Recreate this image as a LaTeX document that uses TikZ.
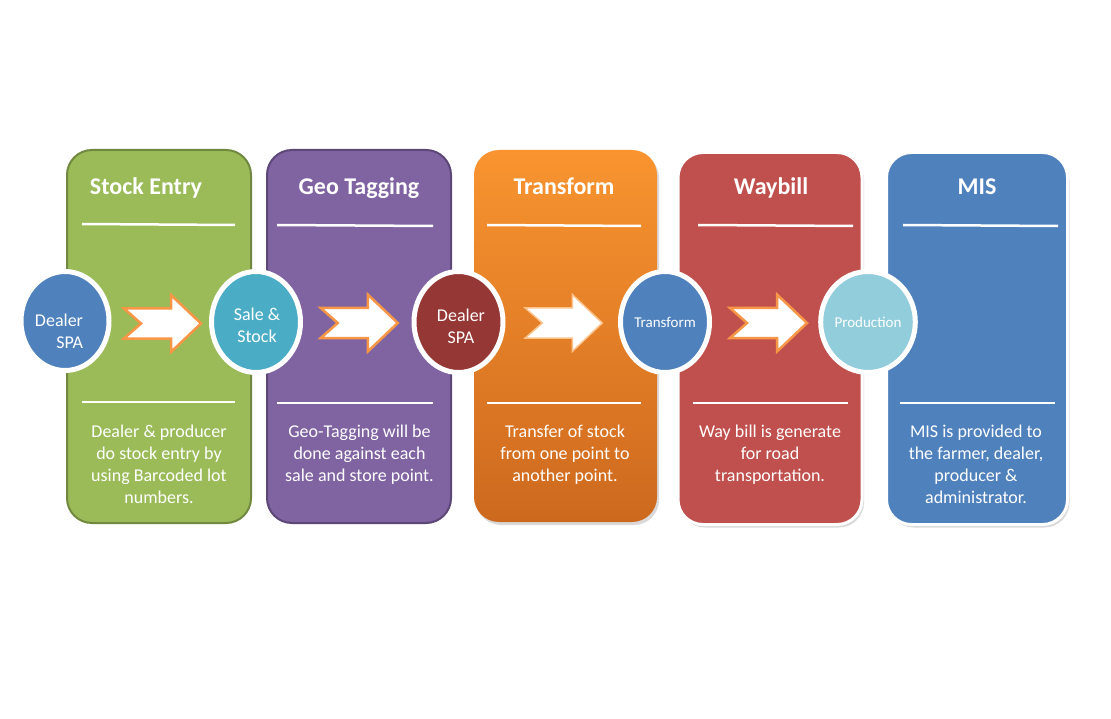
\documentclass[tikz,border=0pt]{standalone}
\usepackage{fontspec}
\setmainfont{Carlito}
\usetikzlibrary{shapes.geometric,shadows,calc}
\definecolor{pgreen}{RGB}{155,187,89}
\definecolor{pgreenb}{RGB}{113,137,63}
\definecolor{ppurple}{RGB}{128,100,162}
\definecolor{ppurpleb}{RGB}{92,71,118}
\definecolor{porangeT}{RGB}{249,148,48}
\definecolor{porangeB}{RGB}{205,105,30}
\definecolor{pred}{RGB}{192,80,77}
\definecolor{pblue}{RGB}{79,129,189}
\definecolor{caqua}{RGB}{75,172,198}
\definecolor{cmaroon}{RGB}{149,55,53}
\definecolor{clight}{RGB}{146,205,220}
\definecolor{aorange}{RGB}{247,150,70}
\definecolor{aglow}{RGB}{252,196,140}
\begin{document}
\begin{tikzpicture}[x=1pt,y=-1pt,
  panel/.style={rectangle, rounded corners=25pt, minimum width=184pt, minimum height=373pt, inner sep=0pt},
  shadowed/.style={drop shadow={shadow xshift=2pt, shadow yshift=-3pt, opacity=0.15, fill=black}},
  title/.style={text=white, font=\fontsize{24}{28}\selectfont\bfseries, anchor=base, inner sep=0pt},
  body/.style={text=white, font=\fontsize{18}{22}\selectfont, align=center, anchor=north, inner sep=0pt},
  rule/.style={draw=white, line width=2.5pt},
  disc/.style={ellipse, draw=white, line width=5pt, minimum width=89pt, minimum height=101pt, inner sep=0pt, text=white, font=\fontsize{18}{22}\selectfont, align=center},
  smalldisc/.style={disc, font=\fontsize{15}{18}\selectfont},
  disctext/.style={text=white, font=\fontsize{18}{22}\selectfont, inner sep=0pt},
  pics/blockarrow/.style={code={
    \draw[#1] (-38.5,-15) -- (8.5,-15) -- (8.5,-28.5) -- (38.5,0) -- (8.5,28.5) -- (8.5,15) -- (-38.5,15) -- (-21.5,0) -- cycle;}}
]
\useasboundingbox (0,0) rectangle (1111,719);
\fill[white] (0,0) rectangle (1111,719);

% panels
\node[panel, fill=pgreen, draw=pgreenb, line width=2pt] (p1) at (159,336.5) {};
\node[panel, fill=ppurple, draw=ppurpleb, line width=2pt] (p2) at (359,336.5) {};
\node[panel, shadowed, top color=porangeT, bottom color=porangeB, minimum width=183pt, minimum height=372pt] (p3) at (565.5,336) {};
\node[panel, shadowed, fill=pred, draw=white, line width=3pt, minimum width=184pt, minimum height=372pt] (p4) at (770,338.5) {};
\node[panel, shadowed, fill=pblue, draw=white, line width=3pt, minimum width=181pt, minimum height=372pt] (p5) at (977,338.5) {};

% rules
\draw[rule] (82,224) -- (235,225);
\draw[rule] (82,402) -- (235,402);
\draw[rule] (277,225) -- (433,226);
\draw[rule] (277,403) -- (433,403);
\draw[rule] (487,225) -- (641,226);
\draw[rule] (487,403) -- (641,403);
\draw[rule] (698,225) -- (853,226);
\draw[rule] (693,403) -- (848,403);
\draw[rule] (903,225) -- (1058,226);
\draw[rule] (900,403) -- (1055,403);

% titles
\node[title] (t1) at (146,195) {Stock Entry};
\node[title] (t2) at (359,195) {Geo Tagging};
\node[title] (t3) at (564,195) {Transform};
\node[title] (t4) at (771,195) {Waybill};
\node[title] (t5) at (977,195) {MIS};

% body texts
\node[body] (b1) at (159,425) {Dealer \& producer\\do stock entry by\\using Barcoded lot\\numbers.};
\node[body] (b2) at (359.5,425) {Geo-Tagging will be\\done against each\\sale and store point.};
\node[body] (b3) at (565,425) {Transfer of stock\\from one point to\\another point.};
\node[body] (b4) at (770,425) {Way bill is generate\\for road\\transportation.};
\node[body] (b5) at (976,425) {MIS is provided to\\the farmer, dealer,\\producer \&\\administrator.};

% circles
\node[disc, fill=pblue, minimum width=88pt, minimum height=99pt] (c1) at (65,321) {};
\node[disctext, align=right] (c1t) at (59,331) {Dealer\\SPA};
\node[disc, fill=caqua] (c2) at (256,322) {};
\node[disctext, align=center] (c2t) at (257,325) {Sale \&\\Stock};
\node[disc, fill=cmaroon] (c3) at (458.5,322) {};
\node[disctext, align=center] (c3t) at (461,326) {Dealer\\SPA};
\node[smalldisc, fill=pblue] (c4) at (665,322) {Transform};
\node[smalldisc, fill=clight] (c5) at (868,322) {Production};

% block arrows
\pic at ($(c1)!0.5!(c2)+(2,2)$) {blockarrow={fill=white, draw=aorange, line width=2.5pt, line join=miter}};
\pic at ($(c2)!0.5!(c3)+(2,1)$) {blockarrow={fill=white, draw=aorange, line width=2.5pt, line join=miter}};
\pic at ($(c3)!0.5!(c4)+(2,1)$) {blockarrow={fill=white, draw=aglow, line width=1.5pt, line join=miter}};
\pic at ($(c4)!0.5!(c5)+(2,1)$) {blockarrow={fill=white, draw=aorange, line width=2.5pt, line join=miter}};
\end{tikzpicture}
\end{document}
